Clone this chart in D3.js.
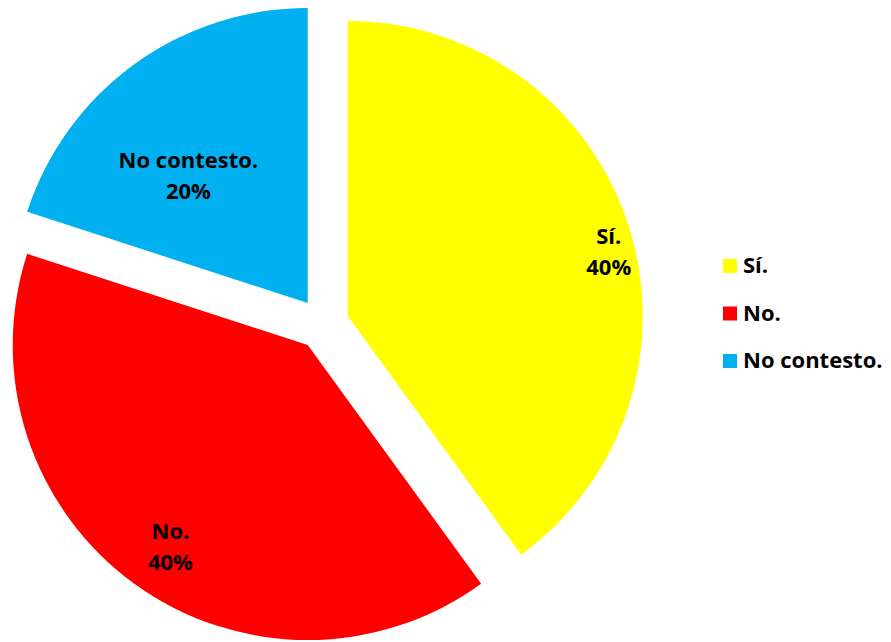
<!DOCTYPE html>
<html>
<head>
<meta charset="utf-8">
<script src="https://cdn.jsdelivr.net/npm/d3@7"></script>
<style>
  html, body { margin: 0; padding: 0; background: #fff; }
  text { font-family: "Open Sans", "DejaVu Sans", sans-serif; font-weight: 700; fill: #000; }
</style>
</head>
<body>
<div id="chart"></div>
<script>
// data
const categories = ['Sí.', 'No.', 'No contesto.'];
const values = [40, 40, 20];
const colors = ['#ffff00', '#ff0000', '#00b0f0'];

const width = 891, height = 642;
const center = [323, 324];
const radius = 295;
const explode = 26;
// where the labels sit (distance from slice apex, angle shift in degrees)
const labelRadius = [269, 243, 175];
const labelShift = [4, -1.6, -7];

const svg = d3.select('#chart')
  .append('svg')
  .attr('width', width)
  .attr('height', height);

const total = d3.sum(values);
const pie = d3.pie().sort(null).value(d => d);
const arcs = pie(values);
const arc = d3.arc().innerRadius(0).outerRadius(radius);

const g = svg.append('g')
  .attr('transform', `translate(${center[0]},${center[1]})`);

const slice = g.selectAll('g.slice')
  .data(arcs)
  .enter()
  .append('g')
  .attr('class', 'slice')
  .attr('transform', d => {
    const mid = (d.startAngle + d.endAngle) / 2;
    return `translate(${Math.sin(mid) * explode},${-Math.cos(mid) * explode})`;
  });

slice.append('path')
  .attr('d', arc)
  .attr('fill', (d, i) => colors[i]);

const label = slice.append('text')
  .attr('text-anchor', 'middle')
  .attr('font-size', 22)
  .attr('transform', (d, i) => {
    const a = (d.startAngle + d.endAngle) / 2 + labelShift[i] * Math.PI / 180;
    const r = labelRadius[i];
    return `translate(${Math.sin(a) * r},${-Math.cos(a) * r})`;
  });

label.append('tspan')
  .attr('x', 0)
  .attr('y', -7)
  .text((d, i) => categories[i]);

label.append('tspan')
  .attr('x', 0)
  .attr('y', 24)
  .text(d => `${Math.round(d.value / total * 100)}%`);

// legend
const legendY = d3.scalePoint()
  .domain(categories)
  .range([273, 368]);

const legend = svg.append('g')
  .selectAll('g')
  .data(categories)
  .enter()
  .append('g')
  .attr('transform', d => `translate(723,${legendY(d)})`);

legend.append('rect')
  .attr('x', 0)
  .attr('y', -14)
  .attr('width', 14)
  .attr('height', 14)
  .attr('fill', (d, i) => colors[i]);

legend.append('text')
  .attr('x', 20)
  .attr('y', 0)
  .attr('font-size', 22)
  .text(d => d);
</script>
</body>
</html>
